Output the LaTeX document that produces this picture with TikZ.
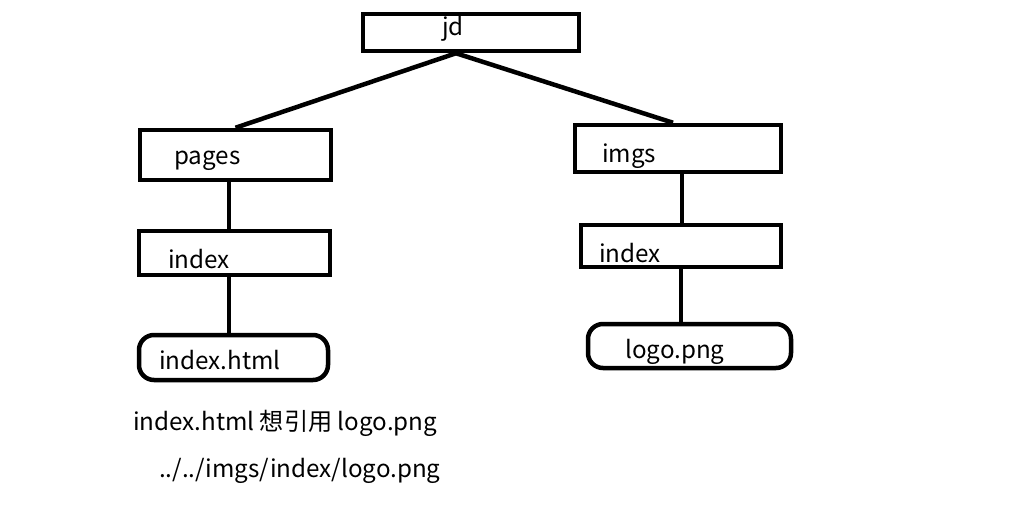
\documentclass[tikz,border=0pt]{standalone}
\usepackage{fontspec}
\usepackage{tikz}
\newfontfamily\cjk{Noto Sans CJK SC}

\begin{document}
\begin{tikzpicture}[
  x=1pt,y=-1pt,
  font=\cjk\fontsize{24.2}{29}\selectfont,
  dir/.style={draw,line width=4.5pt,inner sep=0pt},
  leaf/.style={dir,rounded corners=15pt},
  lbl/.style={anchor=base west,inner sep=0pt},
  link/.style={draw,line width=4.5pt},
]
\useasboundingbox (0,0) rectangle (1018,524);

% folders
\node[dir,minimum width=216,minimum height=37] (jd) at (471,32.5) {};
\node[dir,minimum width=191,minimum height=50] (pages) at (235.5,155) {};
\node[dir,minimum width=191,minimum height=44] (idxL) at (234.5,253) {};
\node[leaf,minimum width=189,minimum height=45] (html) at (233.5,357.5) {};
\node[dir,minimum width=206,minimum height=47] (imgs) at (678,148.5) {};
\node[dir,minimum width=200,minimum height=42] (idxR) at (681,246) {};
\node[leaf,minimum width=203,minimum height=44] (logo) at (689.5,346) {};

% names inside the boxes
\node[lbl] (jdT) at (442,36) {jd};
\node[lbl] (pagesT) at (174,165) {pages};
\node[lbl] (idxLT) at (168,268) {index};
\node[lbl] (htmlT) at (159,369) {index.html};
\node[lbl] (imgsT) at (602,163) {imgs};
\node[lbl] (idxRT) at (599,262) {index};
\node[lbl] (logoT) at (625,358) {logo.png};

\draw[link] ([xshift=-15]jd.south) -- (pages.north);
\draw[link] ([xshift=-15]jd.south) -- ([xshift=-5]imgs.north);
\draw[link] ([xshift=-6.5]pages.south) -- ([xshift=-5.5]idxL.north);
\draw[link] ([xshift=-5.5]idxL.south) -- ([xshift=-4.5]html.north);
\draw[link] ([xshift=4]imgs.south) -- ([xshift=1]idxR.north);
\draw[link] ([xshift=0]idxR.south) -- ([xshift=-8.5]logo.north);

% note under the tree
\node[lbl] (note) at (133,430) {index.html 想引用 logo.png};
\node[lbl] (path) at (159,477) {../../imgs/index/logo.png};
\end{tikzpicture}
\end{document}
